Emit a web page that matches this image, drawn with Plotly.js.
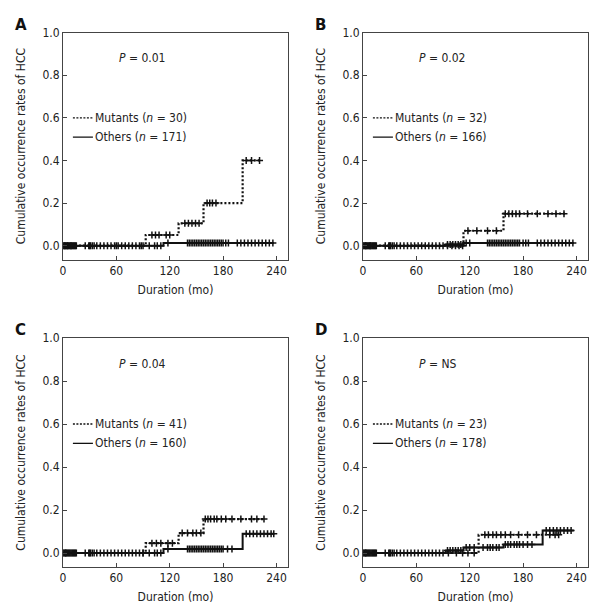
<!DOCTYPE html>
<html>
<head>
<meta charset="utf-8">
<script src="https://cdn.plot.ly/plotly-3.0.1.min.js"></script>
<style>html,body{margin:0;padding:0;background:#fff}#chart{width:600px;height:613px}</style>
</head>
<body>
<div id="chart"></div>
<script>
// ---------------- data ----------------
const panelLetters = ["A", "B", "C", "D"];
const pValues = ["0.01", "0.02", "0.04", "NS"];
const mutantN = [30, 32, 41, 23];
const otherN = [171, 166, 160, 178];

// event (step) times and cumulative rates
const mutA_t = [93, 130, 158, 202];  const mutA_v = [0.05, 0.105, 0.2, 0.4];  const mutA_end = 222;
const othA_t = [113];                const othA_v = [0.012];                  const othA_end = 237;
const mutB_t = [113, 158];           const mutB_v = [0.07, 0.15];             const mutB_end = 228;
const othB_t = [93, 113];            const othB_v = [0.006, 0.012];           const othB_end = 237;
const mutC_t = [93, 130, 158];       const mutC_v = [0.046, 0.093, 0.158];    const mutC_end = 227;
const othC_t = [113, 202];           const othC_v = [0.019, 0.09];            const othC_end = 237;
const mutD_t = [130];                const mutD_v = [0.085];                  const mutD_end = 222;
const othD_t = [93, 113, 158, 202];  const othD_v = [0.012, 0.026, 0.04, 0.105]; const othD_end = 237;

// censored observation times
const zeroCens = [0,1,2,3,4,5,6,7,8,9,10,11,12,13,14,15,25,29,31,33,35,38,42,46,50,54,58,62,66,70,74,78,82,86,90];
const mutA_c = [2,5,9,30,60,88,100,104,108,116,120,137,141,145,149,153,162,165,168,172,206,212,221];
const othA_c = zeroCens.concat([97,103,106,110,118,140,142,144,146,148,150,152,154,156,158,160,162,164,166,168,170,172,174,176,178,180,183,186,196,200,204,208,212,216,220,224,228,232,236]);
const mutB_c = [3,8,30,95,100,104,108,112,118,128,140,150,160,164,168,172,176,185,196,208,217,226];
const othB_c = zeroCens.concat([95,98,101,104,107,110,116,120,140,142,144,146,148,150,152,154,156,158,160,162,164,166,168,170,172,174,176,180,183,186,196,200,204,208,212,216,220,224,228,232,236]);
const mutC_c = [3,30,90,100,105,110,118,123,134,140,146,150,155,160,163,166,170,173,178,183,190,200,212,218,226];
const othC_c = zeroCens.concat([97,103,106,110,118,140,142,144,146,148,150,152,154,156,158,160,162,164,166,168,170,172,174,176,178,180,185,190,206,210,214,218,222,226,230,234,237]);
const mutD_c = [3,30,96,105,112,118,125,137,141,146,150,155,160,166,175,185,195,210,216,220];
const othD_c = zeroCens.concat([95,98,101,104,107,110,116,120,125,135,140,143,146,150,153,160,163,166,170,173,176,180,185,190,206,210,214,218,222,226,230,234]);

const xTicks = [0, 60, 120, 180, 240];
const yTicks = [0, 0.2, 0.4, 0.6, 0.8, 1.0];

// ---------------- build ----------------
const panels = [
  {mt: mutA_t, mv: mutA_v, me: mutA_end, ot: othA_t, ov: othA_v, oe: othA_end, mc: mutA_c, oc: othA_c},
  {mt: mutB_t, mv: mutB_v, me: mutB_end, ot: othB_t, ov: othB_v, oe: othB_end, mc: mutB_c, oc: othB_c},
  {mt: mutC_t, mv: mutC_v, me: mutC_end, ot: othC_t, ov: othC_v, oe: othC_end, mc: mutC_c, oc: othC_c},
  {mt: mutD_t, mv: mutD_v, me: mutD_end, ot: othD_t, ov: othD_v, oe: othD_end, mc: mutD_c, oc: othD_c}
];

function stepXY(t, v, end) {
  const x = [0], y = [0];
  t.forEach((ti, i) => { x.push(ti); y.push(v[i]); });
  x.push(end); y.push(v.length ? v[v.length - 1] : 0);
  return {x, y};
}
function valueAt(t, v, time) {
  let val = 0;
  t.forEach((ti, i) => { if (time >= ti) val = v[i]; });
  return val;
}

const W = 600, H = 613;
const xDom = [[63/W, 288/W], [363/W, 588/W], [63/W, 288/W], [363/W, 588/W]];
const yDom = [[1-259.5/H, 1-32.7/H], [1-259.5/H, 1-32.7/H], [1-567/H, 1-338/H], [1-567/H, 1-338/H]];

const font = "'DejaVu Sans Condensed', 'DejaVu Sans', sans-serif";
const traces = [];
const layout = {
  width: W, height: H, margin: {l: 0, r: 0, t: 0, b: 0},
  paper_bgcolor: "#fff", plot_bgcolor: "#fff",
  showlegend: false,
  font: {family: font, size: 12, color: "#222"},
  annotations: [], shapes: []
};

panels.forEach((p, i) => {
  const sfx = i === 0 ? "" : String(i + 1);
  const xa = "x" + sfx, ya = "y" + sfx;
  const m = stepXY(p.mt, p.mv, p.me);
  const o = stepXY(p.ot, p.ov, p.oe);
  traces.push({x: o.x, y: o.y, xaxis: xa, yaxis: ya, mode: "lines", line: {shape: "hv", color: "#111", width: 2}, hoverinfo: "skip"});
  traces.push({x: m.x, y: m.y, xaxis: xa, yaxis: ya, mode: "lines", line: {shape: "hv", color: "#111", width: 2.2, dash: "2px,2px"}, hoverinfo: "skip"});
  traces.push({x: p.oc, y: p.oc.map(c => valueAt(p.ot, p.ov, c)), xaxis: xa, yaxis: ya, mode: "markers",
    marker: {symbol: "cross-thin-open", size: 5, color: "#111", line: {width: 1.5, color: "#111"}}, hoverinfo: "skip"});
  traces.push({x: p.mc, y: p.mc.map(c => valueAt(p.mt, p.mv, c)), xaxis: xa, yaxis: ya, mode: "markers",
    marker: {symbol: "cross-thin-open", size: 5, color: "#111", line: {width: 1.5, color: "#111"}}, hoverinfo: "skip"});

  layout["xaxis" + sfx] = {
    domain: xDom[i], anchor: ya, range: [0, 253], tickvals: xTicks, ticks: "inside", ticklen: 4,
    tickcolor: "#444", showgrid: false, zeroline: false, showline: true, mirror: true, linecolor: "#444", linewidth: 1,
    tickfont: {size: 12, family: font, color: "#222"},
    title: {text: "Duration (mo)", font: {size: 12, family: font, color: "#222"}, standoff: 8}
  };
  layout["yaxis" + sfx] = {
    domain: yDom[i], anchor: xa, range: [-0.065, 1.0], tickvals: yTicks, tickformat: ".1f", ticks: "inside", ticklen: 4,
    tickcolor: "#444", showgrid: false, zeroline: false, showline: true, mirror: true, linecolor: "#444", linewidth: 1,
    tickfont: {size: 12, family: font, color: "#222"},
    title: {text: "Cumulative occurrence rates of HCC", font: {size: 12, family: font, color: "#222"}, standoff: 14}
  };

  // panel letter
  layout.annotations.push({xref: "paper", yref: "paper", x: xDom[i][0] - 50/W, y: yDom[i][1] + 8/H,
    text: "<b>" + panelLetters[i] + "</b>", showarrow: false, xanchor: "left", yanchor: "middle",
    font: {size: 15, family: "'DejaVu Sans', sans-serif", color: "#111"}});
  // P value
  layout.annotations.push({xref: xa + " domain", yref: ya, x: 0.24, y: 0.88,
    text: "<i>P</i> = " + pValues[i], showarrow: false, xanchor: "left", yanchor: "middle",
    font: {size: 12, family: font, color: "#222"}});
  // legend
  const legY = [0.60, 0.51];
  const legText = ["Mutants (<i>n</i> = " + mutantN[i] + ")", "Others (<i>n</i> = " + otherN[i] + ")"];
  legY.forEach((ly, k) => {
    layout.shapes.push({type: "line", xref: xa + " domain", yref: ya, x0: 0.044, x1: 0.133, y0: ly, y1: ly,
      line: {color: "#111", width: 1.3, dash: k === 0 ? "2px,1.5px" : "solid"}});
    layout.annotations.push({xref: xa + " domain", yref: ya, x: 0.135, y: ly, text: legText[k], showarrow: false,
      xanchor: "left", yanchor: "middle", font: {size: 12, family: font, color: "#222"}});
  });
});

Plotly.newPlot("chart", traces, layout, {staticPlot: true, displayModeBar: false});
</script>
</body>
</html>
